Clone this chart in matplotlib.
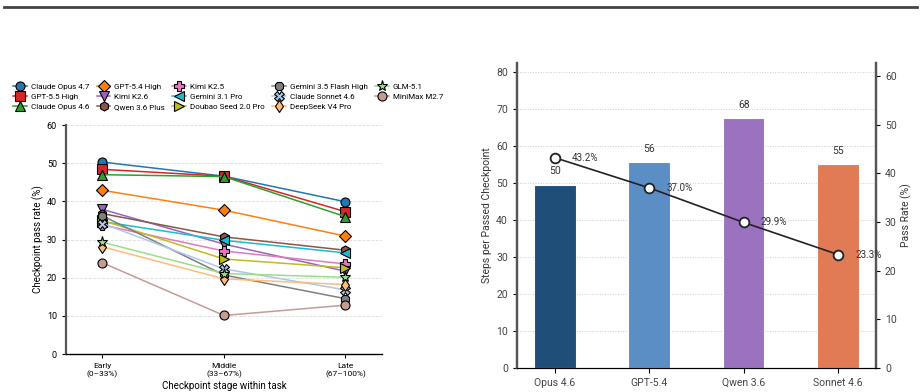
import numpy as np
import matplotlib
matplotlib.use("Agg")
import matplotlib.pyplot as plt
from matplotlib.lines import Line2D

plt.rcParams['font.family'] = ['Roboto', 'DejaVu Sans']

# Left panel: pass rate by checkpoint stage
stages = ['Early\n(0–33%)', 'Middle\n(33–67%)', 'Late\n(67–100%)']
models = ['Claude Opus 4.7', 'GPT-5.5 High', 'Claude Opus 4.6', 'GPT-5.4 High',
          'Kimi K2.6', 'Qwen 3.6 Plus', 'Kimi K2.5', 'Gemini 3.1 Pro',
          'Doubao Seed 2.0 Pro', 'Gemini 3.5 Flash High', 'Claude Sonnet 4.6',
          'DeepSeek V4 Pro', 'GLM-5.1', 'MiniMax M2.7']
rates = [
    [50.3, 46.6, 39.9],
    [48.4, 46.6, 37.3],
    [47.0, 46.5, 36.0],
    [42.9, 37.7, 30.9],
    [37.9, 28.8, 21.7],
    [36.8, 30.7, 27.2],
    [33.8, 27.0, 23.6],
    [34.7, 29.8, 26.5],
    [35.0, 24.9, 22.6],
    [36.2, 20.7, 14.5],
    [34.2, 22.3, 16.8],
    [28.1, 19.7, 18.2],
    [29.3, 21.1, 20.1],
    [23.9, 10.1, 12.8],
]
colors = ['#1f77b4', '#d62728', '#2ca02c', '#ff7f0e', '#9467bd', '#8c564b',
          '#e377c2', '#17becf', '#bcbd22', '#7f7f7f', '#aec7e8', '#ffbb78',
          '#98df8a', '#c49c94']
markers = ['o', 's', '^', 'D', 'v', 'h', 'P', '<', '>', '8', 'X', 'd', '*', 'o']

# Right panel: steps per passed checkpoint and pass rate
bar_models = ['Opus 4.6', 'GPT-5.4', 'Qwen 3.6', 'Sonnet 4.6']
steps = [49.6, 55.8, 67.6, 55.2]
pass_rate = [43.2, 37.0, 29.9, 23.3]
bar_colors = ['#1f4e79', '#5b8ec4', '#9b72c0', '#e07b56']

fig = plt.figure(figsize=(9.21, 3.92), dpi=100)

# top rule
fig.add_artist(Line2D([0.004, 0.996], [0.982, 0.982], transform=fig.transFigure,
                      color='#444444', lw=2))

# ---- left panel ----
ax1 = fig.add_axes([0.0717, 0.0969, 0.343, 0.584])
x = np.arange(len(stages))
for name, vals, c, m in zip(models, rates, colors, markers):
    ms = 8 if m == '*' else 6.5
    ax1.plot(x, vals, color=c, marker=m, ms=ms, lw=1.1, mec='black', mew=0.8,
             label=name)
ax1.set_xlim(-0.3, 2.3)
ax1.set_ylim(0, 60)
ax1.set_xticks(x)
ax1.set_xticklabels(stages, fontsize=6)
ax1.set_yticks(np.arange(0, 61, 10))
ax1.tick_params(axis='y', labelsize=6.5, length=3)
ax1.tick_params(axis='x', length=3)
ax1.set_xlabel('Checkpoint stage within task', fontsize=7, labelpad=2)
ax1.set_ylabel('Checkpoint pass rate (%)', fontsize=7, labelpad=2)
ax1.grid(axis='y', ls='--', color='#dddddd', lw=0.6)
ax1.set_axisbelow(True)
ax1.spines['top'].set_visible(False)
ax1.spines['right'].set_visible(False)
ax1.spines['left'].set_color('#555555')
ax1.spines['left'].set_linewidth(1.6)
ax1.spines['bottom'].set_linewidth(1.0)

fig.legend(loc='upper left', bbox_to_anchor=(0.011, 0.795), ncol=5,
           frameon=False, fontsize=5.8, handlelength=1.7, handletextpad=0.5,
           columnspacing=0.9, labelspacing=0.4, borderaxespad=0)

# ---- right panel ----
ax2 = fig.add_axes([0.5613, 0.0612, 0.3898, 0.778])
xb = np.arange(len(bar_models))
bars = ax2.bar(xb, steps, width=0.44, color=bar_colors, edgecolor='white',
               lw=0.8, zorder=2)
for xi, v in zip(xb, steps):
    ax2.text(xi, v + 2.2, f'{v:.0f}', ha='center', va='bottom', fontsize=7.5,
             color='#333333')
ax2.set_xlim(-0.4, 3.4)
ax2.set_ylim(0, max(steps) * 1.22)
ax2.set_yticks(np.arange(0, 81, 10))
ax2.set_xticks(xb)
ax2.set_xticklabels(bar_models, fontsize=7.5, color='#444444')
ax2.tick_params(axis='y', labelsize=7.5, labelcolor='#444444', length=3)
ax2.set_ylabel('Steps per Passed Checkpoint', fontsize=7.5, color='#333333',
               labelpad=3)
ax2.grid(axis='y', ls=':', color='#cccccc', lw=0.7)
ax2.set_axisbelow(True)
ax2.spines['top'].set_visible(False)
for s in ['left', 'right']:
    ax2.spines[s].set_color('#555555')
    ax2.spines[s].set_linewidth(1.6)
ax2.spines['bottom'].set_color('#444444')

ax3 = ax2.twinx()
ax3.plot(xb, pass_rate, color='#222222', lw=1.2, marker='o', ms=7,
         mfc='white', mec='#222222', mew=1.3, zorder=3)
for xi, v in zip(xb, pass_rate):
    ax3.text(xi + 0.18, v, f'{v:.1f}%', ha='left', va='center', fontsize=7,
             color='#333333')
ax3.set_ylim(0, max(pass_rate) * 1.45)
ax3.set_yticks(np.arange(0, 61, 10))
ax3.tick_params(axis='y', labelsize=7.5, labelcolor='#444444', length=3)
ax3.set_ylabel('Pass Rate (%)', fontsize=7.5, color='#333333', labelpad=3)
ax3.spines['top'].set_visible(False)
for s in ['left', 'right']:
    ax3.spines[s].set_color('#555555')
    ax3.spines[s].set_linewidth(1.6)

fig.savefig('out.png', dpi=100)
